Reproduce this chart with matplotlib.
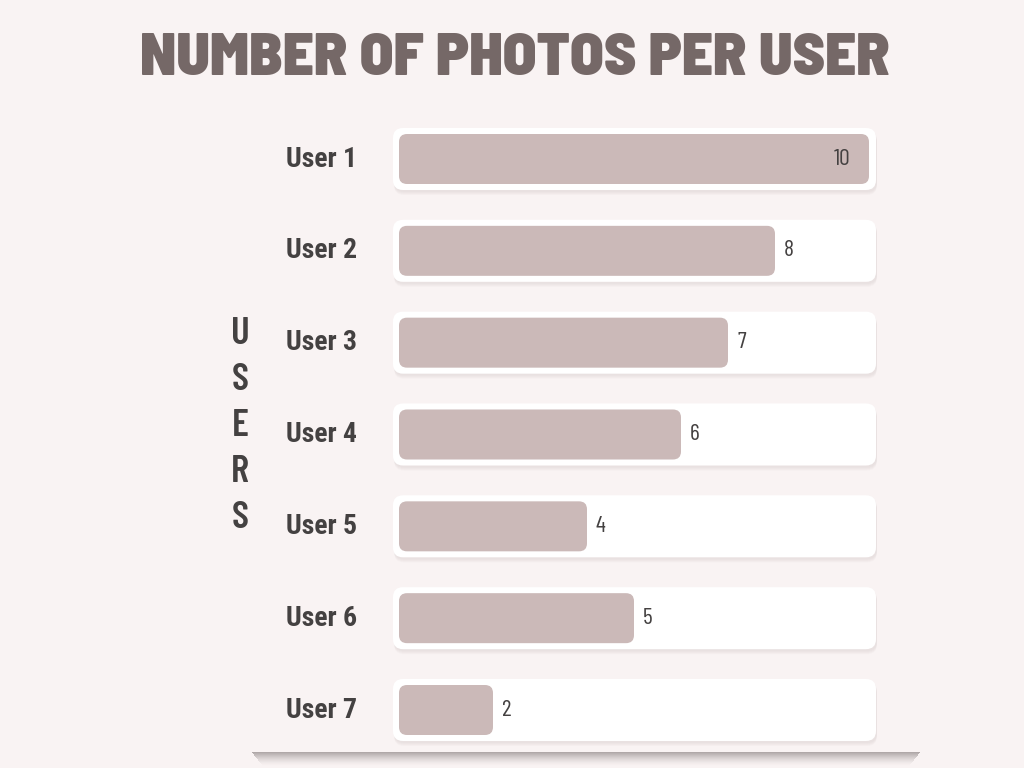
import matplotlib
matplotlib.use("Agg")
import matplotlib.pyplot as plt
from matplotlib import font_manager
from matplotlib.patches import FancyBboxPatch, Rectangle

users = ["User 1", "User 2", "User 3", "User 4", "User 5", "User 6", "User 7"]
photos = [10, 8, 7, 6, 4, 5, 2]

bg = "#f9f3f3"
bar_color = "#cbb9b8"
title_color = "#756867"
text_color = "#444141"

installed = {f.name for f in font_manager.fontManager.ttflist}


def pick(*prefs):
    for p in prefs:
        if p in installed:
            return [p, "DejaVu Sans"]
    return ["DejaVu Sans"]


title_font = pick("Barlow Semi Condensed", "Archivo Black", "Roboto")
label_font = pick("Roboto Condensed", "Barlow Condensed", "Liberation Sans Narrow")
value_font = pick("Barlow Condensed", "Oswald", "Roboto Condensed")
axis_font = pick("Barlow Condensed", "Oswald", "Roboto Condensed")

W, H = 1024, 768
fig = plt.figure(figsize=(W / 100, H / 100), dpi=100, facecolor=bg)

# card shadow at the bottom, darkest at its top edge
for i in range(14):
    a = 0.38 * (1 - i / 14) ** 1.6
    fig.patches.append(Rectangle(
        ((252 + i * 0.8) / W, 1 - (753 + i) / H), (668 - i * 1.6) / W, 1 / H,
        transform=fig.transFigure, facecolor="#3a3030", edgecolor="none",
        alpha=a, zorder=-1))

# axes: value 0 at x=399px, 10 at x=869px; rows at 159..710px
px_x = 47.0
row_top, row_bot = 159, 710
px_y = (row_bot - row_top) / 6
ax_top = row_top - px_y / 2
ax_bottom = row_bot + px_y / 2
ax = fig.add_axes([399 / W, (H - ax_bottom) / H, 470 / W, (ax_bottom - ax_top) / H])
ax.set_xlim(0, 10)
ax.set_ylim(6.5, -0.5)
ax.axis("off")
ax.patch.set_alpha(0)

aspect = px_x / px_y
track_h = 62 / px_y
bar_h = 50 / px_y
tx0 = -6 / px_x
tx1 = (876 - 399) / px_x

for i, (u, v) in enumerate(zip(users, photos)):
    # soft shadow of the white track
    for k in range(4):
        ax.add_patch(FancyBboxPatch(
            (tx0 + 1 / px_x, i - track_h / 2 + (2 + k) / px_y), tx1 - tx0, track_h,
            boxstyle="round,pad=0,rounding_size=%f" % (10 / px_x),
            mutation_aspect=aspect, facecolor="#8a7a7a", edgecolor="none",
            alpha=0.035, zorder=1, clip_on=False))
    ax.add_patch(FancyBboxPatch(
        (tx0, i - track_h / 2), tx1 - tx0, track_h,
        boxstyle="round,pad=0,rounding_size=%f" % (10 / px_x),
        mutation_aspect=aspect, facecolor="white", edgecolor="none",
        zorder=2, clip_on=False))
    ax.add_patch(FancyBboxPatch(
        (0, i - bar_h / 2), v, bar_h,
        boxstyle="round,pad=0,rounding_size=%f" % (8 / px_x),
        mutation_aspect=aspect, facecolor=bar_color, edgecolor="none",
        zorder=3, clip_on=False))
    if v == max(photos):
        ax.text(v - 19 / px_x, i, str(v), ha="right", va="center", fontsize=17,
                fontweight="normal", family=value_font, color=text_color, zorder=4)
    else:
        ax.text(v + 9 / px_x, i, str(v), ha="left", va="center", fontsize=17,
                fontweight="normal", family=value_font, color=text_color, zorder=4)
    ax.text(-42 / px_x, i, u, ha="right", va="center", fontsize=20,
            fontweight="bold", family=label_font, color=text_color, zorder=4)

fig.text(515 / W, 1 - 59 / H, "NUMBER OF PHOTOS PER USER", ha="center",
         va="center", fontsize=44, fontweight="black", family=title_font,
         color=title_color)

fig.text(240 / W, 1 - 426 / H, "U\nS\nE\nR\nS", ha="center", va="center",
         fontsize=28, fontweight="semibold", family=axis_font, color=text_color,
         linespacing=1.45, multialignment="center")

fig.savefig("out.png", dpi=100, facecolor=bg)
